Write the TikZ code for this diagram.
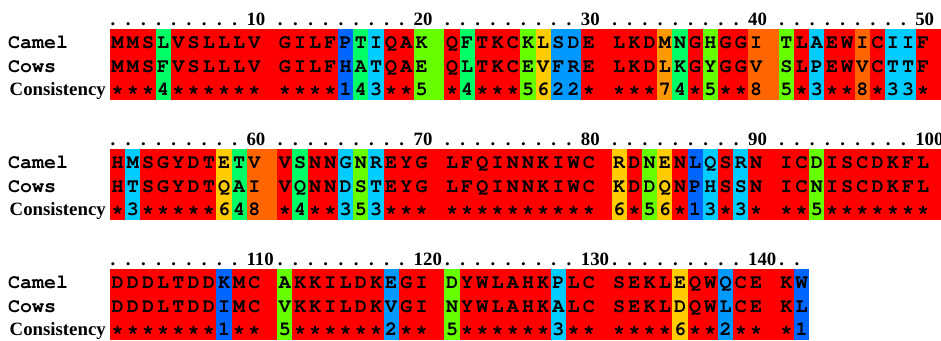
\documentclass[tikz,border=0pt]{standalone}
\usepackage[T1]{fontenc}
\usepackage{fontspec}
\setmainfont{Liberation Serif}
\newcommand\cour{\fontencoding{T1}\fontfamily{pcr}\fontseries{b}\fontshape{n}\fontsize{20}{24}\selectfont}
\newcommand\tms{\bfseries\fontsize{18.8}{22}\selectfont}
\definecolor{cS}{HTML}{FF0000}
\definecolor{c8}{HTML}{FF6600}
\definecolor{c7}{HTML}{FF9900}
\definecolor{c6}{HTML}{FFCC00}
\definecolor{c5}{HTML}{66FF00}
\definecolor{c4}{HTML}{00FF66}
\definecolor{c3}{HTML}{00CCFF}
\definecolor{c2}{HTML}{0099FF}
\definecolor{c1}{HTML}{0066FF}
\ExplSyntaxOn
\tl_const:cn {c_cam0_tl} {MMSLVSLLLV GILFPTIQAK QFTKCKLSDE LKDMNGHGGI TLAEWICIIF}
\tl_const:cn {c_cow0_tl} {MMSFVSLLLV GILFHATQAE QLTKCEVFRE LKDLKGYGGV SLPEWVCTTF}
\tl_const:cn {c_con0_tl} {***4****** ****143**5 *4***5622* ***74*5**8 5*3**8*33*}
\tl_const:cn {c_cam1_tl} {HMSGYDTETV VSNNGNREYG LFQINNKIWC RDNENLQSRN ICDISCDKFL}
\tl_const:cn {c_cow1_tl} {HTSGYDTQAI VQNNDSTEYG LFQINNKIWC KDDQNPHSSN ICNISCDKFL}
\tl_const:cn {c_con1_tl} {*3*****648 *4**353*** ********** 6*56*13*3* **5*******}
\tl_const:cn {c_cam2_tl} {DDDLTDDKMC AKKILDKEGI DYWLAHKPLC SEKLEQWQCE KW}
\tl_const:cn {c_cow2_tl} {DDDLTDDIMC VKKILDKVGI NYWLAHKALC SEKLDQWLCE KL}
\tl_const:cn {c_con2_tl} {*******1** 5******2** 5******3** ****6**2** *1}
\cs_new:Npn \seqch #1#2 {\tl_item:cn {c_#1_tl}{#2}}
\ExplSyntaxOff
\def\StarCh{*}
\tikzset{
  res/.style={anchor=base, inner sep=0pt, font=\cour},
  lab/.style={anchor=base west, inner sep=0pt, font=\cour},
  conslab/.style={anchor=base west, inner sep=0pt, font=\tms},
  rulnum/.style={anchor=base west, inner sep=0pt, font=\tms},
  ruldot/.style={anchor=base, inner sep=0pt, font=\tms}
}
\begin{document}
\begin{tikzpicture}[x=1pt,y=-1pt]
\useasboundingbox (0,0) rectangle (941,340);
\fill[white] (0,0) rectangle (941,340);
\clip (0,0) rectangle (941,340);
\foreach \r/\N in {0/50,1/50,2/42}{
  \pgfmathsetmacro\yt{29+120*\r}
  \pgfmathsetmacro\yb{100+120*\r}
  \node[lab] (camel\r) at (8,\yt+19) {Camel};
  \node[lab] (cows\r) at (8,\yt+43) {Cows};
  \node[conslab] (cons\r) at (9.5,\yt+66.5) {Consistency};
  \foreach \i in {1,...,\N}{
    \pgfmathtruncatemacro\c{\i-1+floor((\i-1)/10)}
    \pgfmathsetmacro\xl{110+15.2*\c}
    \pgfmathtruncatemacro\m{mod(\i,10)}
    \ifnum\m=0 \pgfmathsetmacro\xr{\xl+30.4}\else\pgfmathsetmacro\xr{\xl+15.2}\fi
    \edef\k{\seqch{con\r}{\i}}
    \ifx\k\StarCh \def\cc{cS}\else\edef\cc{c\k}\fi
    \fill[\cc] (\xl,\yt) rectangle (\xr,\yb);
    \node[res] (a-\r-\i) at (\xl+7.6,\yt+19) {\seqch{cam\r}{\i}};
    \node[res] (b-\r-\i) at (\xl+7.6,\yt+43) {\seqch{cow\r}{\i}};
    \node[res] (k-\r-\i) at (\xl+7.6,\yt+66.5) {\k};
    \pgfmathtruncatemacro\n{50*\r+\i}
    \ifnum\m=0
      \node[rulnum] (n-\r-\i) at (\xl-0.5,\yt-4) {\n};
    \else
      \node[ruldot] (d-\r-\i) at (\xl+3,\yt-4) {.};
    \fi
  }
}
\end{tikzpicture}
\end{document}
